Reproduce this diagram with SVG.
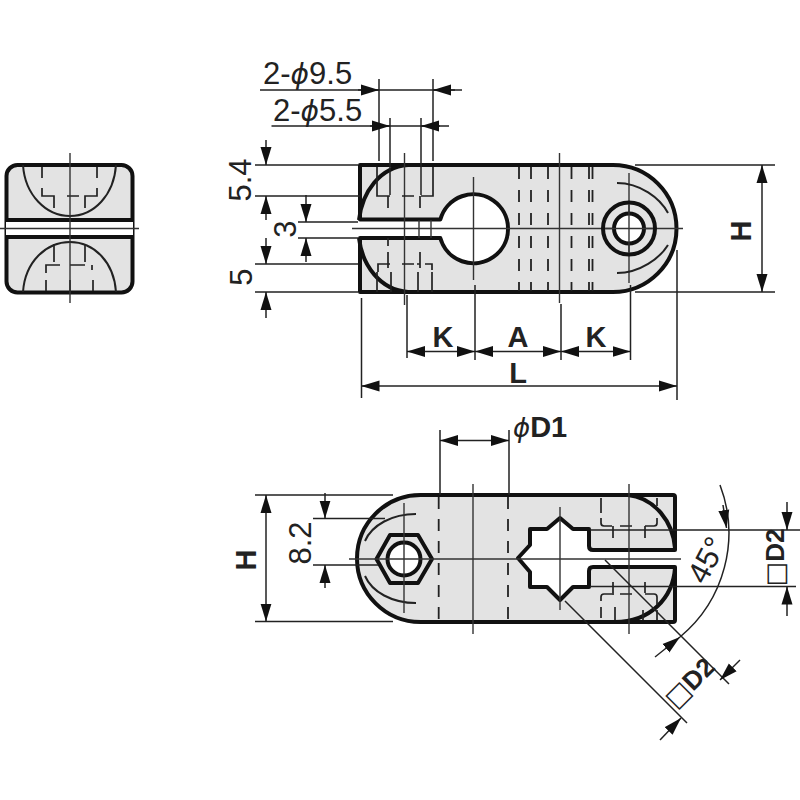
<svg xmlns="http://www.w3.org/2000/svg" width="800" height="800" viewBox="0 0 800 800">
<style>
.body{fill:#e3e3e3;stroke:#111;stroke-width:4;stroke-linejoin:round}
.o{fill:none;stroke:#111;stroke-width:4;stroke-linejoin:round}
.w{fill:#fff;stroke:#111;stroke-width:4}
.t{fill:none;stroke:#222;stroke-width:1.5}
.c{fill:none;stroke:#333;stroke-width:1.4}
.d{fill:none;stroke:#222;stroke-width:1.7}
.v{fill:none;stroke:#222;stroke-width:1.8;stroke-dasharray:12 11}
.e{fill:none;stroke:#222;stroke-width:1.5}
.a{fill:none;stroke:#222;stroke-width:1.5;marker-end:url(#ah)}
text{font-family:"Liberation Sans",Arial,sans-serif;font-size:31px;fill:#222}
.b{font-weight:bold;font-size:29px}
.ph{font-family:"DejaVu Sans",sans-serif;font-style:italic;font-weight:normal}
.sq{font-family:"DejaVu Sans",sans-serif;font-weight:normal}
</style>
<defs>
<marker id="ah" markerUnits="userSpaceOnUse" markerWidth="18" markerHeight="12" refX="18" refY="6" orient="auto"><path d="M0 0.500L18 6L0 11.500Z" fill="#111"/></marker>
</defs>

<g id="side-view">
<rect class="body" x="6.500" y="165" width="126" height="127.500" rx="11"/>
<rect x="6" y="220" width="127" height="17" fill="#fff"/>
<path class="o" d="M6 220H133M6 237H133"/>
<path class="t" style="stroke-width:2" d="M23 165C25 195 46 216 70 216C94 216 114 195 116 165M23 292C25 262 46 242 70 242C94 242 114 262 116 292"/>
<path class="d" d="M42 167V178M97 167V178M42 188V196H54V208M97 188V196H85V208M67 196H79M54 244V262M85 244V262M46 273V265H60M70 265H85M92 265V270M46 280V291M70 280V291M93 280V291"/>
<path class="c" d="M70 153V303M0 228.500H139"/>
</g>

<g id="top-view">
<path class="body" d="M360 165H613A63.500 63.500 0 0 1 613 292H360V238H440.300A34.500 34.500 0 1 0 440.300 219.500H360Z"/>
<path class="o" d="M359 220C362 192 380 167 408 165M359 238C362 265 380 290 408 292"/>
<path class="v" d="M519 167V291M531 167V291M548 167V291M571.500 167V291M589 167V291M592.500 167V291"/>
<path class="c" d="M559.500 153V303M352 228.500H683M473.500 177V280M629 173V283M404.500 153V305M419 220V238M431 220V238"/>
<path class="d" d="M377 167V196H390M402 196H414M421 196H433V167M388 196V208M420 196V208M388 238V246M388 252V268M378 272V264H390M402 264H414M417 264H420M420 252V268M425 264H432V270M377 272V292M391 272V292M418 272V292M432 272V292"/>
<path class="t" d="M617 183C640 183 660 198 668 213M617 273C640 273 660 258 668 245" style="stroke-width:2"/>
<circle class="o" cx="629" cy="228.500" r="26"/>
<circle class="w" cx="629" cy="228.500" r="15"/>
<path class="c" d="M629 205V252M605 228.500H653"/>
</g>

<g id="bottom-view">
<path class="body" d="M420.500 495H673Q675 495 675 497V550H593Q589 550 589 546V529H573L560 518L547 529H530V545L518 558L530 572V587H547L560 600L573 587H589V571Q589 567 593 567H675V620Q675 622 673 622H420.500A63.500 63.500 0 0 1 420.500 495Z"/>
<path class="o" d="M628 495C655 498 673 522 675 548M675 568C673 598 650 622 615 622"/>
<path class="v" style="stroke-dasharray:12 10" d="M438.700 497V621M508 497V621"/>
<path class="d" d="M601 498V513M601 518V523Q601 526 604 526H612M620 526H632M645 526H654Q657 526 657 523V518M657 506V498M613 526V538M645 526V538M601 618V607M601 601V597Q601 594 604 594H612M620 594H632M645 594H654Q657 594 657 597V605M657 610V620M613 582V595M615 607V620M645 582V593M643 610V620"/>
<path class="t" style="stroke-width:2" d="M416 514C392 514 372 525 365 541M416 603C392 603 372 592 365 576"/>
<polygon class="o" style="fill:#e3e3e3" points="376.500,559 390,535 418,535 432,559 418,583 390,583"/>
<circle class="w" cx="404" cy="559" r="16.500"/>
<path class="c" d="M473 484V634M349 559H681M404 503V613M629 484V634M560 507V610"/>
</g>

<g id="connectors">
<path class="e" d="M379 79V161M433 79V161M390 118V195M421 118V195"/>
<path class="d" d="M260 90H462M271.500 126H449"/>
<path class="a" d="M358 90H379"/><path class="a" d="M455 90H433"/>
<path class="a" d="M370 126H390"/><path class="a" d="M440 126H421"/>
<path class="e" d="M255 165H358M255 196H360M298 222H358M298 238H358M255 264H358M255 292H358"/>
<path class="a" d="M266 140V165"/><path class="a" d="M266 220V196"/>
<path class="a" d="M306 195V222"/><path class="a" d="M306 262V238"/>
<path class="a" d="M266 238V264"/><path class="a" d="M266 318V292"/>
<path class="e" d="M635 165H775M635 292H775"/>
<path class="a" d="M762 229V165"/><path class="a" d="M762 229V292"/>
<path class="e" d="M361.500 298V398M407 295V358M475 285V360M561 304V360M630.500 285V360M677 250V400"/>
<path class="a" d="M441 351.500H407"/><path class="a" d="M441 351.500H475"/>
<path class="a" d="M518 351.500H475"/><path class="a" d="M518 351.500H561"/>
<path class="a" d="M596 351.500H561"/><path class="a" d="M596 351.500H630.500"/>
<path class="a" d="M519 386H361.500"/><path class="a" d="M519 386H677"/>
<path class="e" d="M440 430V495M509 430V495"/>
<path class="a" d="M475 440.500H440"/><path class="a" d="M475 440.500H509"/>
<path class="e" d="M255 495H393M255 621.500H393M313 518.500H385M313 565H378"/>
<path class="a" d="M266 558V495"/><path class="a" d="M266 558V621.500"/>
<path class="a" d="M325 493V518.500"/><path class="a" d="M325 588V565"/>
<path class="e" d="M590 530H800M590 586.500H796"/>
<path class="a" d="M787 502V530"/><path class="a" d="M787 616V586.500"/>
<path class="e" d="M720 485A135 135 0 0 1 680 637"/>
<path class="a" d="M723 505L726.500 528"/><path class="a" d="M655 657L680 637"/>
<path class="e" d="M605 560L729 684M565 601L687 723"/>
<path class="a" d="M660 740L681 718"/><path class="a" d="M740 660L720 680"/>
</g>

<g id="labels">
<text x="263" y="84">2-<tspan class="ph" font-size="28">ϕ</tspan>9.5</text>
<text x="273" y="121">2-<tspan class="ph" font-size="28">ϕ</tspan>5.5</text>
<text transform="translate(251 180) rotate(-90)" text-anchor="middle">5.4</text>
<text transform="translate(296 229) rotate(-90)" text-anchor="middle">3</text>
<text transform="translate(252 277) rotate(-90)" text-anchor="middle">5</text>
<text class="b" x="443" y="347" text-anchor="middle">K</text>
<text class="b" x="518" y="347" text-anchor="middle">A</text>
<text class="b" x="596" y="347" text-anchor="middle">K</text>
<text class="b" x="518" y="383" text-anchor="middle">L</text>
<text class="b" transform="translate(751 231) rotate(-90)" text-anchor="middle">H</text>
<text class="b" x="513" y="437"><tspan class="ph" font-size="26">ϕ</tspan>D1</text>
<text class="b" transform="translate(256 560) rotate(-90)" text-anchor="middle">H</text>
<text transform="translate(311 543) rotate(-90)" text-anchor="middle">8.2</text>
<text transform="translate(784 557.500) rotate(-90)" text-anchor="middle" style="font-size:26px;font-weight:bold"><tspan class="sq">□</tspan>D2</text>
<text transform="translate(716 565) rotate(-62)" text-anchor="middle">45°</text>
<text transform="translate(696 689) rotate(-45)" text-anchor="middle" style="font-size:26px;font-weight:bold"><tspan class="sq">□</tspan>D2</text>
</g>
</svg>
